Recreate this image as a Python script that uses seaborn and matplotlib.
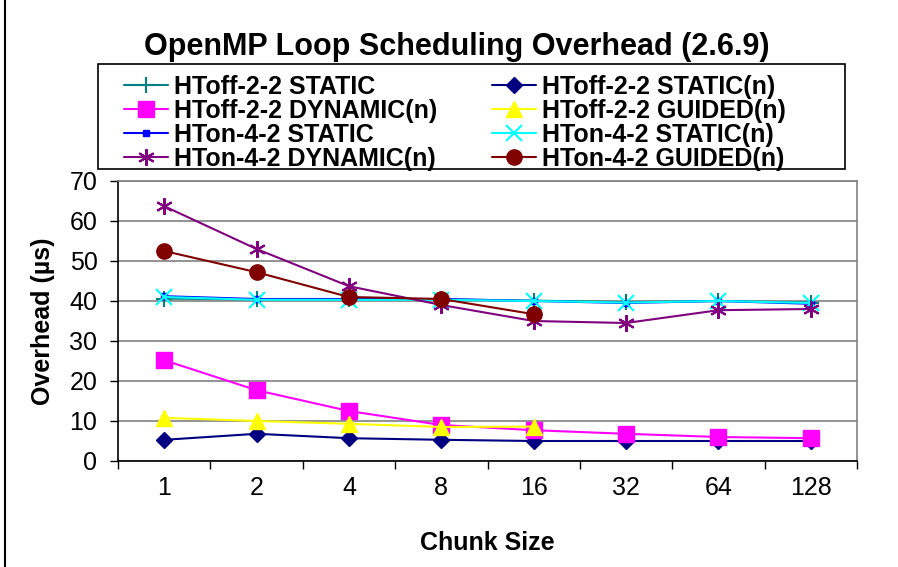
import matplotlib
matplotlib.use("Agg")
import matplotlib.pyplot as plt
import matplotlib.patches as mpatches
import seaborn as sns
import pandas as pd
import numpy as np

chunk_sizes = ["1", "2", "4", "8", "16", "32", "64", "128"]

htoff_static = [40.6, 40.4, 40.4, 40.4, 40.1, 39.7, 40.0, 39.6]
htoff_static_n = [5.3, 6.8, 5.7, 5.3, 5.0, 5.0, 5.0, 5.0]
htoff_dynamic_n = [25.2, 17.7, 12.5, 9.0, 7.7, 6.8, 6.0, 5.7]
htoff_guided_n = [10.8, 10.0, 9.3, 8.5, 8.6, None, None, None]
hton_static = [41.2, 40.5, 40.5, 40.5, 40.0, 39.5, 40.0, 39.3]
hton_static_n = [41.0, 40.3, 40.3, 40.3, 40.0, 39.6, 40.0, 39.5]
hton_dynamic_n = [63.7, 53.0, 43.7, 39.0, 35.0, 34.5, 37.7, 38.0]
hton_guided_n = [52.5, 47.2, 41.0, 40.5, 36.7, None, None, None]

series_names = [
    "HToff-2-2 STATIC", "HToff-2-2 STATIC(n)",
    "HToff-2-2 DYNAMIC(n)", "HToff-2-2 GUIDED(n)",
    "HTon-4-2 STATIC", "HTon-4-2 STATIC(n)",
    "HTon-4-2 DYNAMIC(n)", "HTon-4-2 GUIDED(n)",
]
series_values = [
    htoff_static, htoff_static_n, htoff_dynamic_n, htoff_guided_n,
    hton_static, hton_static_n, hton_dynamic_n, hton_guided_n,
]
colors = ["#008080", "#000080", "#FF00FF", "#FFFF00",
          "#0000FF", "#00FFFF", "#800080", "#800000"]
markers = ["+", "D", "s", "^", "s", "x", (6, 2, 0), "o"]
msizes = [11, 8, 11, 11, 5, 11, 12, 11]
mews = [1.5, 1, 1, 1, 1, 1.5, 1.5, 1]

rows = []
for name, vals in zip(series_names, series_values):
    for i, v in enumerate(vals):
        if v is not None:
            rows.append({"series": name, "pos": i, "value": v})
df = pd.DataFrame(rows)

sns.set_style("white")
plt.rcParams["font.family"] = ["Liberation Sans", "DejaVu Sans"]
for k in ["text.color", "axes.labelcolor", "xtick.color", "ytick.color"]:
    plt.rcParams[k] = "black"

fig = plt.figure(figsize=(8.98, 5.67), dpi=100)
ax = fig.add_axes([118 / 898, 1 - 461 / 567, (857 - 118) / 898, (461 - 181) / 567])

for name, c, m, ms, mew in zip(series_names, colors, markers, msizes, mews):
    sub = df[df["series"] == name]
    sns.lineplot(data=sub, x="pos", y="value", ax=ax, color=c, marker=m,
                 markersize=ms, markeredgecolor=c, markeredgewidth=mew,
                 linewidth=1.5, label=name, legend=False)

ax.set_xlim(-0.5, len(chunk_sizes) - 0.5)
ax.set_ylim(0, 70)
ax.set_yticks(np.arange(0, 71, 10))
ax.yaxis.grid(True, color="#808080", linewidth=1.2)
ax.set_axisbelow(True)

ax.set_xticks(np.arange(len(chunk_sizes)))
ax.set_xticklabels(chunk_sizes, fontsize=18)
ax.set_xticks(np.arange(-0.5, len(chunk_sizes)), minor=True)
ax.tick_params(axis="x", which="major", length=0, pad=11)
ax.tick_params(axis="x", which="minor", length=5.5, width=1, color="black", direction="out", bottom=True)
ax.tick_params(axis="y", length=5.8, width=1, color="black", direction="out", left=True, labelsize=18, pad=9)

for s in ["left", "bottom"]:
    ax.spines[s].set_color("black")
    ax.spines[s].set_linewidth(1.2)
for s in ["top", "right"]:
    ax.spines[s].set_color("#808080")
    ax.spines[s].set_linewidth(1.2)

ax.set_xlabel("Chunk Size", fontsize=18, fontweight="bold")
ax.set_ylabel("Overhead (µs)", fontsize=18, fontweight="bold")
ax.xaxis.set_label_coords(0.5, (461 - 531) / 280)
ax.yaxis.set_label_coords((55 - 118) / 739, 0.5)

fig.suptitle("OpenMP Loop Scheduling Overhead (2.6.9)", fontsize=22,
             fontweight="bold", x=457 / 898, y=1 - 47 / 567, va="center")

handles, labels = ax.get_legend_handles_labels()
order = [0, 2, 4, 6, 1, 3, 5, 7]
leg = fig.legend([handles[i] for i in order], [labels[i] for i in order],
                 ncol=2, loc="upper left",
                 bbox_to_anchor=(124 / 898, 1 - 75 / 567),
                 prop={"size": 18, "weight": "bold"}, frameon=False,
                 handlelength=1.75, labelspacing=0.0,
                 borderpad=0, borderaxespad=0, handletextpad=0.26, columnspacing=2.17)

fig.patches.append(mpatches.Rectangle((98 / 898, 1 - 169 / 567), (845 - 98) / 898, (169 - 64) / 567,
                                      transform=fig.transFigure, fill=False,
                                      edgecolor="black", linewidth=1.2))

fig.patches.append(mpatches.Rectangle((5 / 898, -0.1), 1.2, 1.1 + (1 - 9 / 567),
                                      transform=fig.transFigure, fill=False,
                                      edgecolor="black", linewidth=1.5))

fig.savefig("out.png", dpi=100)
